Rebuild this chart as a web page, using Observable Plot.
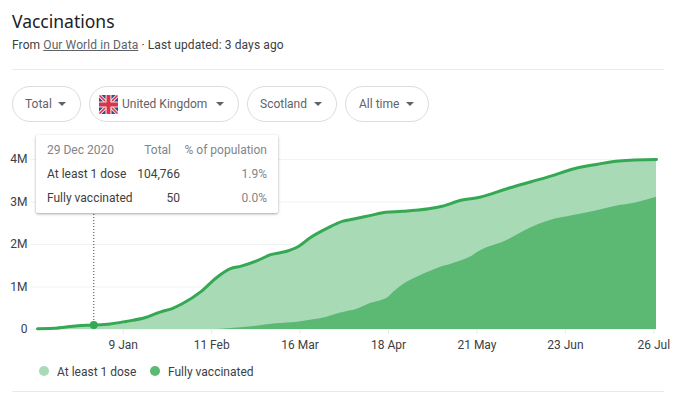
<!DOCTYPE html>
<html>
<head>
<meta charset="utf-8">
<script src="https://cdn.jsdelivr.net/npm/d3@7"></script>
<script src="https://cdn.jsdelivr.net/npm/@observablehq/plot@0.6"></script>
<style>
  html, body { margin: 0; padding: 0; background: #fff; }
  body { width: 680px; height: 395px; position: relative; overflow: hidden; font-family: Roboto, sans-serif; font-size: 12px; color: #3c4043; }
  .abs { position: absolute; white-space: nowrap; }
  #title { left: 12px; top: 9px; font-family: "Noto Sans", sans-serif; font-size: 17.5px; line-height: 24px; color: #202124; }
  #sub { left: 12px; top: 37px; line-height: 16px; color: #3c4043; letter-spacing: .1px; }
  #sub a { color: #5f6368; text-decoration: underline; }
  .sep { left: 12px; width: 652px; height: 1px; background: #e8eaed; }
  .chip { top: 86px; height: 34px; border: 1px solid #dadce0; border-radius: 18px; display: flex; align-items: center; box-sizing: content-box; color: #5f6368; font-size: 12px; }
  .chip .caret { width: 0; height: 0; border-left: 4px solid transparent; border-right: 4px solid transparent; border-top: 4px solid #5f6368; position: absolute; top: 15px; }
  #chart { left: 0; top: 140px; }
  #tip { left: 36px; top: 135px; width: 242px; height: 78px; background: #fff; border-radius: 2px; box-shadow: 0 1px 3px rgba(60,64,67,.35), 0 1px 2px rgba(60,64,67,.15); }
  #tip div { position: absolute; line-height: 16px; }
  .grey { color: #80868b; }
  .dot { width: 10px; height: 10px; border-radius: 50%; top: 366px; }
  .leg { top: 364px; line-height: 16px; color: #3c4043; }
</style>
</head>
<body>
<div class="abs" id="title">Vaccinations</div>
<div class="abs" id="sub">From <a>Our World in Data</a> · Last updated: 3 days ago</div>
<div class="abs sep" style="top:69px"></div>
<div class="abs chip" style="left:12px;width:67px"><span style="margin-left:12px">Total</span><span class="caret" style="left:45px"></span></div>
<div class="abs chip" style="left:89px;width:148px">
  <svg width="19" height="19" viewBox="0 0 60 60" style="margin-left:9px;border-radius:2px">
    <rect width="60" height="60" fill="#2b4a96"/>
    <path d="M0 0L60 60M60 0L0 60" stroke="#f4e4e6" stroke-width="11"/>
    <path d="M0 0L60 60M60 0L0 60" stroke="#d8354a" stroke-width="5"/>
    <path d="M30 0V60M0 30H60" stroke="#f4e4e6" stroke-width="19"/>
    <path d="M30 0V60M0 30H60" stroke="#d8354a" stroke-width="12"/>
  </svg>
  <span style="margin-left:4px">United Kingdom</span><span class="caret" style="left:126px"></span></div>
<div class="abs chip" style="left:247px;width:88px"><span style="margin-left:12px">Scotland</span><span class="caret" style="left:66px"></span></div>
<div class="abs chip" style="left:345px;width:82px"><span style="margin-left:13px">All time</span><span class="caret" style="left:60px"></span></div>

<div class="abs" id="chart"></div>

<div class="abs" id="tip">
  <div class="grey" style="left:11px;top:7px">29 Dec 2020</div>
  <div class="grey" style="right:107px;top:7px">Total</div>
  <div class="grey" style="right:11px;top:7px">% of population</div>
  <div style="left:11px;top:31px">At least 1 dose</div>
  <div style="right:98px;top:31px">104,766</div>
  <div class="grey" style="right:11px;top:31px">1.9%</div>
  <div style="left:11px;top:55px">Fully vaccinated</div>
  <div style="right:98px;top:55px">50</div>
  <div class="grey" style="right:11px;top:55px">0.0%</div>
</div>

<div class="abs dot" style="left:39px;background:#a8dab5"></div>
<div class="abs leg" style="left:57px">At least 1 dose</div>
<div class="abs dot" style="left:150px;background:#5bb974"></div>
<div class="abs leg" style="left:168px">Fully vaccinated</div>
<div class="abs sep" style="top:391px"></div>

<script>
const doseDates = ["2020-12-08","2020-12-14","2020-12-23","2020-12-29","2021-01-04","2021-01-10","2021-01-17","2021-01-23","2021-01-27","2021-01-31","2021-02-07","2021-02-13","2021-02-18","2021-02-22","2021-02-28","2021-03-05","2021-03-11","2021-03-15","2021-03-20","2021-03-26","2021-04-01","2021-04-05","2021-04-11","2021-04-17","2021-04-23","2021-05-03","2021-05-08","2021-05-15","2021-05-22","2021-06-02","2021-06-16","2021-06-28","2021-07-05","2021-07-13","2021-07-27"];
const doseValues = [0.02,0.03,0.09,0.105,0.13,0.19,0.275,0.416,0.487,0.605,0.89,1.23,1.43,1.49,1.62,1.76,1.84,1.94,2.17,2.38,2.55,2.60,2.68,2.76,2.78,2.84,2.90,3.04,3.11,3.33,3.58,3.81,3.89,3.965,4.00];
const fullDates = ["2020-12-08","2020-12-29","2021-02-12","2021-02-17","2021-02-27","2021-03-07","2021-03-15","2021-03-21","2021-03-26","2021-04-01","2021-04-06","2021-04-11","2021-04-18","2021-04-20","2021-04-23","2021-04-30","2021-05-06","2021-05-15","2021-05-19","2021-05-22","2021-06-01","2021-06-10","2021-06-17","2021-06-26","2021-07-04","2021-07-11","2021-07-20","2021-07-27"];
const fullValues = [0,0.00005,0.002,0.016,0.07,0.134,0.172,0.228,0.29,0.40,0.47,0.605,0.76,0.88,1.035,1.27,1.43,1.61,1.72,1.84,2.09,2.39,2.56,2.68,2.78,2.89,2.99,3.11];
const xTickDates = ["2021-01-09","2021-02-11","2021-03-16","2021-04-18","2021-05-21","2021-06-23","2021-07-26"];
const xTickLabels = ["9 Jan","11 Feb","16 Mar","18 Apr","21 May","23 Jun","26 Jul"];
const yTicks = [0,1,2,3,4];
const yTickLabels = ["0","1M","2M","3M","4M"];
const hoverDate = "2020-12-29";
const hoverValue = 0.105;
const xDomain = ["2020-12-08","2021-07-27"];

const D = s => new Date(s + "T00:00:00Z");
const dose = doseDates.map((d,i) => ({date: D(d), value: doseValues[i]}));
const full = fullDates.map((d,i) => ({date: D(d), value: fullValues[i]}));
const xTicks = xTickDates.map(D);

const chart = Plot.plot({
  width: 680,
  height: 210,
  marginLeft: 37,
  marginRight: 24,
  marginTop: 19,
  marginBottom: 21,
  style: {background: "transparent", fontFamily: "Roboto, sans-serif", fontSize: "12px", overflow: "visible"},
  x: {type: "utc", domain: xDomain.map(D)},
  y: {domain: [0,4]},
  marks: [
    Plot.gridY(yTicks, {stroke: "#f1f3f4", strokeOpacity: 1, strokeWidth: 1}),
    Plot.axisY(yTicks, {
      tickSize: 7, tickPadding: 3, stroke: "#f1f3f4", fill: "#3c4043", label: null,
      tickFormat: d => yTickLabels[yTicks.indexOf(d)]
    }),
    Plot.axisX(xTicks, {
      tickSize: 5, tickPadding: 6, stroke: "#e8eaed", fill: "#3c4043", label: null,
      tickFormat: d => xTickLabels[xTicks.findIndex(t => +t === +d)]
    }),
    Plot.areaY(dose, {x: "date", y: "value", fill: "#a8dab5", curve: "monotone-x"}),
    Plot.areaY(full, {x: "date", y: "value", fill: "#5bb974", curve: "monotone-x"}),
    Plot.ruleX([D(hoverDate)], {y1: 0, y2: 3, stroke: "#3c4043", strokeWidth: 1, strokeDasharray: "1,2"}),
    Plot.lineY(dose, {x: "date", y: "value", stroke: "#34a853", strokeWidth: 3, curve: "monotone-x"}),
    Plot.dot([{date: D(hoverDate), value: hoverValue}], {x: "date", y: "value", r: 4, fill: "#34a853"})
  ]
});
document.getElementById("chart").appendChild(chart);
</script>
</body>
</html>
